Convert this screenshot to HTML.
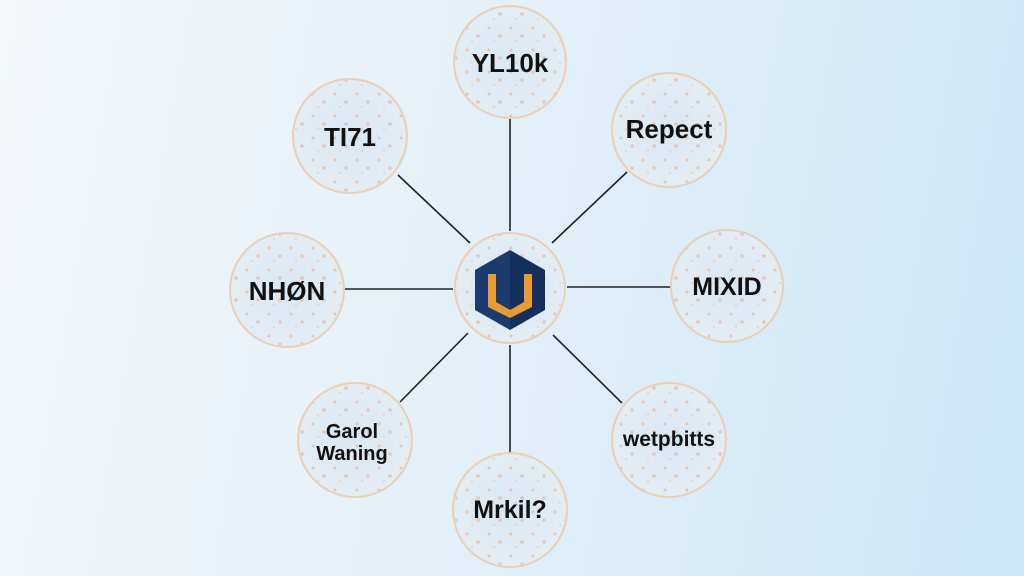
<!DOCTYPE html>
<html><head><meta charset="utf-8"><style>
html,body{margin:0;padding:0;width:1024px;height:576px;overflow:hidden}
body{background:linear-gradient(100deg,#f3f7fa 0%,#e4f0f8 45%,#cbe7f9 100%)}
svg{position:absolute;left:0;top:0}
text{font-family:"Liberation Sans",sans-serif;fill:#111;text-anchor:middle;font-weight:bold}
</style></head><body>
<svg width="1024" height="576" viewBox="0 0 1024 576">
<defs>
<radialGradient id="cg" cx="50%" cy="50%" r="50%">
<stop offset="0" stop-color="#d9e8f4"/><stop offset="1" stop-color="#e2ecf3"/>
</radialGradient>
<pattern id="spk" width="22" height="22" patternUnits="userSpaceOnUse">
<circle cx="5" cy="6" r="1.5" fill="#f0b08c" opacity=".65"/>
<circle cx="16" cy="14" r="1.8" fill="#eea885" opacity=".55"/>
<circle cx="10" cy="19" r="1.1" fill="#f0c0a2" opacity=".6"/>
</pattern>
</defs>
<g stroke="#222" stroke-width="1.6">
<line x1="510" y1="118" x2="510" y2="231"/>
<line x1="398" y1="175" x2="470" y2="243"/>
<line x1="627" y1="172" x2="552" y2="243"/>
<line x1="344" y1="289" x2="453" y2="289"/>
<line x1="567" y1="287" x2="672" y2="287"/>
<line x1="400" y1="402" x2="468" y2="333"/>
<line x1="622" y1="403" x2="553" y2="335"/>
<line x1="510" y1="345" x2="510" y2="453"/>
</g>
<g stroke="#ebcfb4" stroke-width="2">
<circle cx="510" cy="62" r="56" fill="url(#cg)"/>
<circle cx="350" cy="136" r="57" fill="url(#cg)"/>
<circle cx="669" cy="130" r="57" fill="url(#cg)"/>
<circle cx="287" cy="290" r="57" fill="url(#cg)"/>
<circle cx="727" cy="286" r="56" fill="url(#cg)"/>
<circle cx="355" cy="440" r="57" fill="url(#cg)"/>
<circle cx="669" cy="440" r="57" fill="url(#cg)"/>
<circle cx="510" cy="510" r="57" fill="url(#cg)"/>
<circle cx="510" cy="288" r="55" fill="url(#cg)"/>
</g>
<g fill="url(#spk)">
<circle cx="510" cy="62" r="55"/><circle cx="350" cy="136" r="56"/><circle cx="669" cy="130" r="56"/>
<circle cx="287" cy="290" r="56"/><circle cx="727" cy="286" r="55"/><circle cx="355" cy="440" r="56"/>
<circle cx="669" cy="440" r="56"/><circle cx="510" cy="510" r="56"/><circle cx="510" cy="288" r="54"/>
</g>
<polygon points="510,250 545,270 545,310 510,330" fill="#14305a"/>
<polygon points="510,250 475,270 475,310 510,330" fill="#1b3b6e"/>
<path d="M488,274 L496,274 L496,302 L510,310 L524,302 L524,274 L532,274 L532,307 L510,318 L488,307 Z" fill="#e99a33"/>
<text x="510" y="72" font-size="26">YL10k</text>
<text x="350" y="146" font-size="26">TI71</text>
<text x="669" y="138" font-size="26">Repect</text>
<text x="287" y="300" font-size="26">NHØN</text>
<text x="727" y="295" font-size="25">MIXID</text>
<text x="352" y="438" font-size="20" style="font-weight:600">Garol</text>
<text x="352" y="460" font-size="20" style="font-weight:600">Waning</text>
<text x="669" y="446" font-size="21">wetpbitts</text>
<text x="510" y="518" font-size="25">Mrkil?</text>
</svg>
</body></html>
